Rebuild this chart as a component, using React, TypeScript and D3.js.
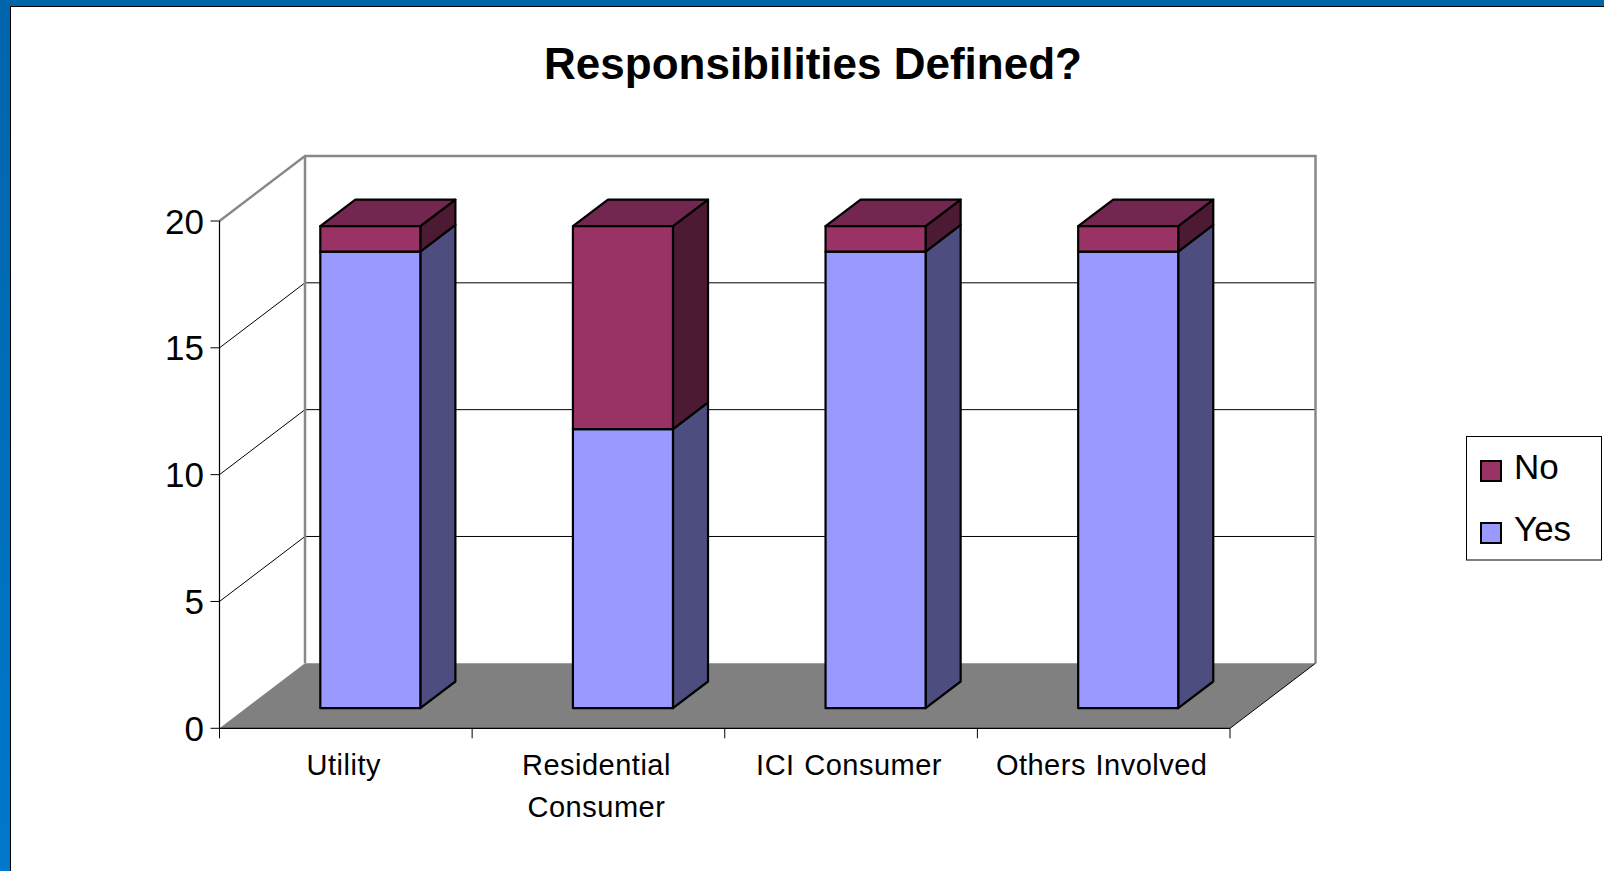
import React from "react";
import * as d3 from "d3";

const categories = ["Utility", "Residential\nConsumer", "ICI Consumer", "Others Involved"];
const yesValues = [18, 11, 18, 18];
const noValues = [1, 8, 1, 1];
const yTicks = [0, 5, 10, 15, 20];
const seriesNames = ["No", "Yes"];

const W = 1604;
const H = 871;
const FONT = "'Liberation Sans', Arial, sans-serif";

// front plane geometry
const X0 = 219.5;
const X1 = 1230;
const Y0 = 728.3;
const Y20 = 221;
const DX = 85.5; // depth offset
const DY = -65;
const Z1 = 0.31; // bar front depth fraction
const Z2 = 0.72; // bar back depth fraction

const colors = {
  yes: { front: "#9999FF", side: "#4D4D80", top: "#7373BF" },
  no: { front: "#993366", side: "#4D1A33", top: "#732650" },
};

export default function App() {
  const x = d3.scaleBand<string>().domain(categories).range([X0, X1]).paddingInner(0).paddingOuter(0);
  const y = d3.scaleLinear().domain([0, 20]).range([Y0, Y20]);
  const bw = x.bandwidth() * 0.396;

  const P = (px: number, py: number, z: number): [number, number] => [px + z * DX, py + z * DY];
  const poly = (pts: [number, number][]) => pts.map((p) => p.join(",")).join(" ");

  const stacks = categories.map((c, i) => {
    const segs = [
      { key: "yes", v0: 0, v1: yesValues[i] },
      { key: "no", v0: yesValues[i], v1: yesValues[i] + noValues[i] },
    ];
    return { c, segs };
  });

  const floor = [P(X0, Y0, 0), P(X0, Y0, 1), P(X1, Y0, 1), P(X1, Y0, 0)];

  return (
    <svg width={W} height={H} style={{ position: "absolute", left: 0, top: 0, background: "#fff" }} fontFamily={FONT}>
      <defs>
        <linearGradient id="lb" x1="0" y1="0" x2="0" y2="1">
          <stop offset="0" stopColor="#0065AA" />
          <stop offset="1" stopColor="#0078CC" />
        </linearGradient>
      </defs>
      <rect x={0} y={0} width={W} height={H} fill="#fff" />
      {/* frame */}
      <rect x={0} y={0} width={W} height={6} fill="#0066AA" />
      <rect x={0} y={0} width={10} height={H} fill="url(#lb)" />
      <line x1={10} y1={6.5} x2={W} y2={6.5} stroke="#000" strokeWidth={1} />
      <line x1={10.5} y1={6} x2={10.5} y2={H} stroke="#000" strokeWidth={1} />

      {/* title */}
      <text x={813} y={79} textAnchor="middle" fontSize={44} fontWeight="bold" fill="#000">
        Responsibilities Defined?
      </text>

      {/* floor */}
      <polygon points={poly(floor)} fill="#808080" stroke="none" />

      {/* gridlines */}
      {yTicks.filter((t) => t > 0 && t < 20).map((t) => {
        const a = P(X0, y(t), 0);
        const b = P(X0, y(t), 1);
        const c = P(X1, y(t), 1);
        return (
          <polyline key={t} points={poly([a, b, c])} fill="none" stroke="#000" strokeWidth={1} />
        );
      })}

      {/* walls border */}
      <polyline
        points={poly([P(X0, y(20), 0), P(X0, y(20), 1), P(X1, y(20), 1), P(X1, y(0), 1)])}
        fill="none"
        stroke="#888"
        strokeWidth={2.5}
      />
      <line x1={P(X0, 0, 1)[0]} y1={P(X0, y(20), 1)[1]} x2={P(X0, 0, 1)[0]} y2={P(X0, y(0), 1)[1]} stroke="#888" strokeWidth={2.5} />

      {/* floor right edge */}
      <line x1={X1} y1={Y0} x2={P(X1, Y0, 1)[0]} y2={P(X1, Y0, 1)[1]} stroke="#000" strokeWidth={1} />

      {/* y axis */}
      <line x1={X0} y1={y(20)} x2={X0} y2={Y0} stroke="#000" strokeWidth={1.2} />
      {yTicks.map((t) => (
        <g key={t}>
          <line x1={X0 - 9} y1={y(t)} x2={X0} y2={y(t)} stroke="#000" strokeWidth={1} />
          <text x={204} y={y(t) + 12.5} textAnchor="end" fontSize={35} fill="#000">
            {t}
          </text>
        </g>
      ))}

      {/* x axis */}
      <line x1={X0} y1={Y0} x2={X1} y2={Y0} stroke="#000" strokeWidth={1.2} />
      {[...categories.map((c) => x(c) as number), X1].map((tx, i) => (
        <line key={i} x1={tx} y1={Y0} x2={tx} y2={Y0 + 10} stroke="#000" strokeWidth={1} />
      ))}
      {categories.map((c) => {
        const cx = (x(c) as number) + x.bandwidth() / 2 - 2;
        return (
          <text key={c} x={cx} textAnchor="middle" fontSize={29} letterSpacing={0.5} wordSpacing={1} fill="#000">
            {c.split("\n").map((ln, j) => (
              <tspan key={j} x={cx} y={775 + j * 42}>
                {ln}
              </tspan>
            ))}
          </text>
        );
      })}

      {/* bars */}
      {stacks.map(({ c, segs }) => {
        const xl = (x(c) as number) + (x.bandwidth() - bw) / 2 - 2;
        const xr = xl + bw;
        const topV = segs[segs.length - 1].v1;
        return (
          <g key={c}>
            {segs.map((s, k) => {
              if (s.v1 <= s.v0) return null;
              const col = (colors as any)[s.key];
              const yb = y(s.v0);
              const yt = y(s.v1);
              const front = [P(xl, yb, Z1), P(xr, yb, Z1), P(xr, yt, Z1), P(xl, yt, Z1)];
              const side = [P(xr, yb, Z1), P(xr, yb, Z2), P(xr, yt, Z2), P(xr, yt, Z1)];
              const top = [P(xl, yt, Z1), P(xr, yt, Z1), P(xr, yt, Z2), P(xl, yt, Z2)];
              return (
                <g key={k} stroke="#000" strokeWidth={2.2} strokeLinejoin="round">
                  <polygon points={poly(side)} fill={col.side} />
                  {s.v1 === topV && <polygon points={poly(top)} fill={col.top} />}
                  <polygon points={poly(front)} fill={col.front} />
                </g>
              );
            })}
          </g>
        );
      })}

      {/* legend */}
      <rect x={1466.5} y={436.5} width={135} height={123.5} fill="#fff" stroke="#000" strokeWidth={1} />
      {seriesNames.map((n, i) => {
        const col = n === "No" ? colors.no.front : colors.yes.front;
        const cy = 471 + i * 62;
        return (
          <g key={n}>
            <rect x={1481} y={cy - 10} width={20} height={20} fill={col} stroke="#000" strokeWidth={2} />
            <text x={1514} y={cy + 8} fontSize={35} fill="#000">
              {n}
            </text>
          </g>
        );
      })}
    </svg>
  );
}
